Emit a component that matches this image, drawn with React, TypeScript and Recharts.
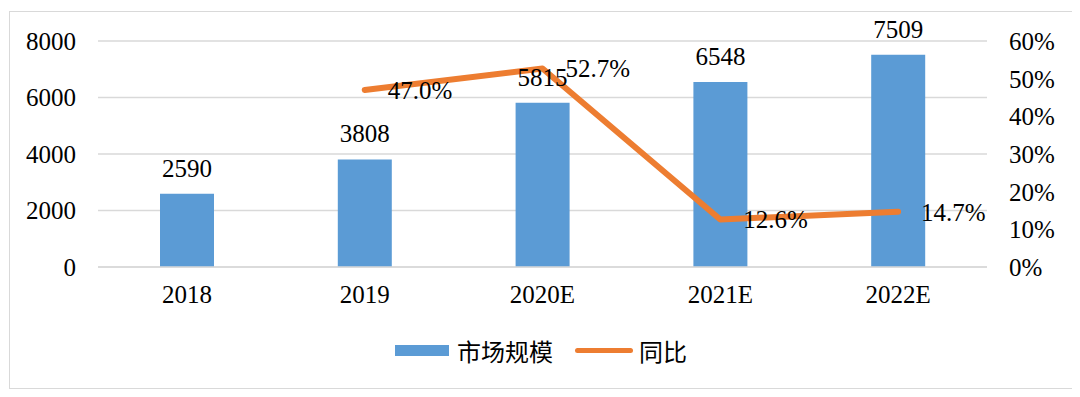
import { ComposedChart, Bar, Line, XAxis, YAxis, CartesianGrid, Legend, LabelList } from "recharts";

const YEARS = ["2018", "2019", "2020E", "2021E", "2022E"];
const MARKET_SIZE = [2590, 3808, 5815, 6548, 7509];
const YOY = [null, 47.0, 52.7, 12.6, 14.7];
const LEFT_TICKS = [0, 2000, 4000, 6000, 8000];
const RIGHT_TICKS = [0, 10, 20, 30, 40, 50, 60];

const BLUE = "#5B9BD5";
const ORANGE = "#ED7D31";
const GRID = "#D9D9D9";
const FONT = '"Liberation Serif", "Times New Roman", "Noto Sans CJK SC", serif';

const data = YEARS.map((y, i) => ({ year: y, size: MARKET_SIZE[i], yoy: YOY[i] }));

const tickStyle = { fill: "#000", fontSize: 25, fontFamily: FONT };

// legend drawn by hand so its box has a known height
function LegendBox() {
  return (
    <div style={{ display: "flex", justifyContent: "center", alignItems: "center", height: 30, fontFamily: FONT, fontSize: 24, color: "#000" }}>
      <span style={{ display: "inline-block", width: 54, height: 11, background: BLUE, marginRight: 8 }} />
      <span>市场规模</span>
      <span style={{ display: "inline-block", width: 58, height: 5, borderRadius: 3, background: ORANGE, marginLeft: 22, marginRight: 6 }} />
      <span>同比</span>
    </div>
  );
}

export default function App() {
  return (
    <div style={{ width: 1064, height: 378, marginTop: 3, marginLeft: 1, border: `1px solid ${GRID}`, boxSizing: "border-box" }}>
      <ComposedChart width={1062} height={376} data={data} margin={{ top: 29, right: 0, bottom: 51, left: 0 }}>
        <CartesianGrid yAxisId="left" vertical={false} stroke={GRID} strokeWidth={1.5} />
        <XAxis dataKey="year" tick={tickStyle} tickLine={false} axisLine={{ stroke: GRID, strokeWidth: 1.5 }} tickMargin={12} height={40} />
        <YAxis yAxisId="left" domain={[0, 8000]} ticks={LEFT_TICKS} tick={tickStyle} tickLine={false} axisLine={false} width={88} tickMargin={16} />
        <YAxis yAxisId="right" orientation="right" domain={[0, 60]} ticks={RIGHT_TICKS} tick={{ ...tickStyle, textAnchor: "start" }}
          tickFormatter={(v) => `${v}%`} tickLine={false} axisLine={false} width={85} tickMargin={16} />
        <Legend content={<LegendBox />} verticalAlign="bottom" wrapperStyle={{ top: 323, left: 0, width: 1062, height: 30 }} />
        <Bar yAxisId="left" dataKey="size" name="市场规模" fill={BLUE} barSize={54} isAnimationActive={false}>
          <LabelList dataKey="size" position="top" offset={17} style={tickStyle} />
        </Bar>
        <Line yAxisId="right" dataKey="yoy" name="同比" stroke={ORANGE} strokeWidth={6} strokeLinecap="round" strokeLinejoin="round"
          type="linear" dot={false} activeDot={false} isAnimationActive={false}>
          <LabelList dataKey="yoy" position="right" offset={23} style={tickStyle} formatter={(v: number) => (v == null ? "" : `${v.toFixed(1)}%`)} />
        </Line>
      </ComposedChart>
    </div>
  );
}
